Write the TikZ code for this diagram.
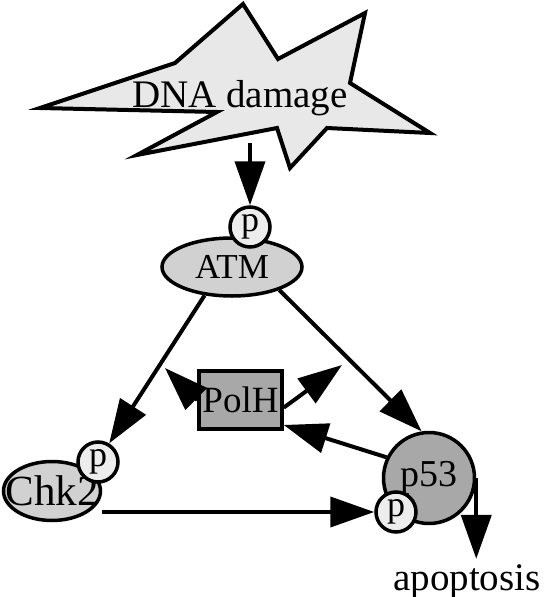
\documentclass[tikz,border=0pt]{standalone}
\usepackage{fontspec}
\setmainfont{Liberation Serif}
\usetikzlibrary{arrows.meta,shapes.geometric}

\definecolor{cStar}{gray}{0.91}
\definecolor{cLight}{gray}{0.93}
\definecolor{cMid}{gray}{0.82}
\definecolor{cDark}{gray}{0.66}
\newcommand{\setfs}[1]{\fontsize{#1}{#1}\selectfont}

\begin{document}
\begin{tikzpicture}[x=1pt,y=-1pt,->,>={Triangle[length=44pt,width=30pt]},
  line width=4pt,
  damage star/.style={draw,fill=cStar,line width=4pt,line join=miter},
  prot node/.style={ellipse,draw,fill=cMid,line width=3.5pt,inner sep=0pt},
  p node/.style={circle,draw,fill=cLight,line width=3.5pt,inner sep=0pt,
    minimum size=40pt,font=\setfs{36}}]
\useasboundingbox (0,0) rectangle (550,597);

% the damage star
\draw[damage star,-] (40,108) -- (175,63) -- (243,4) -- (278,59) -- (365,13)
  -- (350,83) -- (430,133) -- (327,128) -- (290,168) -- (277,128)
  -- (137,155) -- (217,112) -- cycle;
\node[anchor=base,font=\setfs{39}](dna) at (240,107) {DNA damage};
\coordinate (dnaout) at (250,143);

\node[prot node,minimum width=140pt,minimum height=58pt,
  label={[font=\setfs{35}]center:ATM}](atm) at (232,267) {};
\node[p node](atmp) at (250,227) {p};

\node[prot node,minimum width=97pt,minimum height=59pt,
  label={[font=\setfs{43}]center:Chk2}](chk) at (52,491) {};
\node[p node](chkp) at (98,462) {p};

\node[circle,draw,fill=cDark,line width=3.5pt,inner sep=0pt,minimum size=91pt,font=\setfs{38}](p53) at (429,478) {p53};
\node[p node](p53p) at (396,512) {p};

\node[rectangle,draw,fill=cDark,line width=3.5pt,inner sep=0pt,minimum width=83pt,minimum height=58pt,font=\setfs{37}](polh) at (240.5,400) {PolH};

\node[anchor=base,font=\setfs{39}](apop) at (467,590) {apoptosis};

\coordinate (polhl) at (165,368);
\coordinate (polhr) at (342,365);

\path
(dnaout) edge (atmp)
(atm.226) edge (chkp.59)
(atm.334) edge (p53.99)
(polh.west) edge (polhl)
(polh.-10) edge (polhr)
(p53.154) edge (polh.-30)
(chk.east |- p53p.west) edge (p53p.west)
(p53.east) edge (p53.east |- apop.north);
\end{tikzpicture}
\end{document}
